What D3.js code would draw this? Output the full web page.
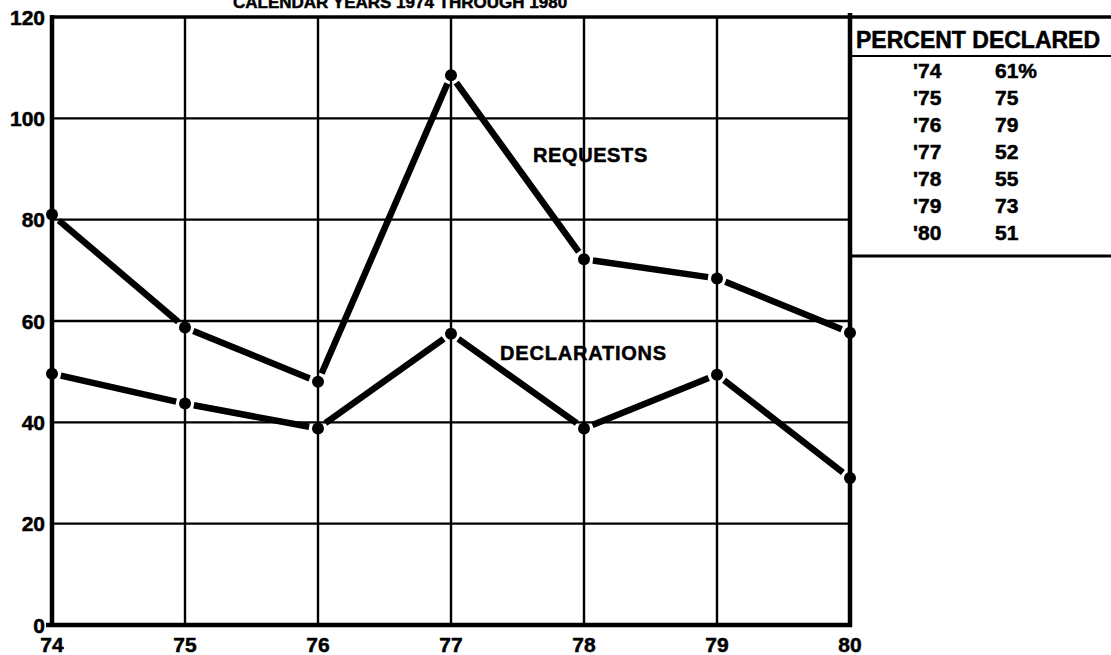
<!DOCTYPE html>
<html>
<head>
<meta charset="utf-8">
<script src="https://cdn.jsdelivr.net/npm/d3@7"></script>
<style>
  html, body { margin: 0; padding: 0; background: #fff; }
  svg { display: block; font-family: "Liberation Sans", Arial, Helvetica, sans-serif; font-weight: bold; }
  svg text { stroke: #000; stroke-width: 0.5px; }
</style>
</head>
<body>
<svg id="chart" width="1111" height="655"></svg>
<script>
// ---- data ----
const years = [74, 75, 76, 77, 78, 79, 80];
const requests = [81, 58.7, 48, 108.5, 72.2, 68.4, 57.7];
const declarations = [49.6, 43.7, 38.8, 57.5, 38.8, 49.4, 29];
const yTicks = [0, 20, 40, 60, 80, 100, 120];
const tableYears = ["'74", "'75", "'76", "'77", "'78", "'79", "'80"];
const tablePercents = ["61%", "75", "79", "52", "55", "73", "51"];
const titleText = "CALENDAR YEARS 1974 THROUGH 1980";
const tableTitle = "PERCENT DECLARED";

// ---- layout ----
const W = 1111, H = 655;
const mLeft = 52, mRight = 850, mTop = 17, mBottom = 625;
const svg = d3.select("#chart");

const x = d3.scaleLinear().domain([74, 80]).range([mLeft, mRight]);
const y = d3.scaleLinear().domain([0, 120]).range([mBottom, mTop]);

// title (partly cropped at top, as in the source)
svg.append("text").attr("x", 233).attr("y", 8)
  .attr("font-size", 17).text(titleText);

// gridlines
svg.append("g").selectAll("line").data(yTicks.filter(d => d > 0 && d < 120)).join("line")
  .attr("x1", mLeft).attr("x2", mRight)
  .attr("y1", d => y(d)).attr("y2", d => y(d))
  .attr("stroke", "#000").attr("stroke-width", 2.4);
svg.append("g").selectAll("line").data(years.filter(d => d > 74 && d < 80)).join("line")
  .attr("x1", d => x(d)).attr("x2", d => x(d))
  .attr("y1", mTop).attr("y2", mBottom)
  .attr("stroke", "#000").attr("stroke-width", 2.4);

// frame
svg.append("line").attr("x1", mLeft).attr("x2", mLeft).attr("y1", mTop - 2).attr("y2", mBottom + 2)
  .attr("stroke", "#000").attr("stroke-width", 4.5);
svg.append("line").attr("x1", mLeft - 6).attr("x2", mRight + 2).attr("y1", mBottom).attr("y2", mBottom)
  .attr("stroke", "#000").attr("stroke-width", 4.5);
svg.append("line").attr("x1", mRight).attr("x2", mRight).attr("y1", mTop - 4).attr("y2", mBottom + 2)
  .attr("stroke", "#000").attr("stroke-width", 4.5);
svg.append("line").attr("x1", mLeft - 2).attr("x2", W).attr("y1", mTop).attr("y2", mTop)
  .attr("stroke", "#000").attr("stroke-width", 3.5);

// y axis labels
svg.append("g").selectAll("text").data(yTicks).join("text")
  .attr("x", mLeft - 7).attr("y", d => y(d))
  .attr("text-anchor", "end").attr("dominant-baseline", "central")
  .attr("font-size", 21).text(d => d);

// x axis labels
svg.append("g").selectAll("text").data(years).join("text")
  .attr("x", d => x(d)).attr("y", mBottom + 27)
  .attr("text-anchor", "middle")
  .attr("font-size", 21).text(d => d);

// series
function drawSeries(vals) {
  const pts = years.map((yr, i) => [x(yr), y(vals[i])]);
  const gap = 9;
  const segs = d3.pairs(pts).map(([a, b]) => {
    const dx = b[0] - a[0], dy = b[1] - a[1];
    const len = Math.hypot(dx, dy);
    const ux = dx / len, uy = dy / len;
    return [a[0] + ux * gap, a[1] + uy * gap, b[0] - ux * gap, b[1] - uy * gap];
  });
  const g = svg.append("g");
  g.selectAll("line").data(segs).join("line")
    .attr("x1", d => d[0]).attr("y1", d => d[1])
    .attr("x2", d => d[2]).attr("y2", d => d[3])
    .attr("stroke", "#000").attr("stroke-width", 6.5);
  g.selectAll("circle").data(pts).join("circle")
    .attr("cx", d => d[0]).attr("cy", d => d[1]).attr("r", 6).attr("fill", "#000");
}
drawSeries(requests);
drawSeries(declarations);

// series labels
svg.append("text").attr("x", 533).attr("y", 162).attr("font-size", 20)
  .attr("letter-spacing", 0.6).text("REQUESTS");
svg.append("text").attr("x", 500).attr("y", 360).attr("font-size", 20)
  .attr("letter-spacing", 0.8).text("DECLARATIONS");

// table
svg.append("text").attr("x", 856).attr("y", 48).attr("font-size", 23).text(tableTitle);
svg.append("line").attr("x1", mRight).attr("x2", W).attr("y1", 56).attr("y2", 56)
  .attr("stroke", "#000").attr("stroke-width", 2);
svg.append("line").attr("x1", mRight + 2).attr("x2", W).attr("y1", 256).attr("y2", 256)
  .attr("stroke", "#000").attr("stroke-width", 3);
const rowY = d3.scalePoint().domain(tableYears).range([78, 240]);
svg.append("g").selectAll("text").data(tableYears).join("text")
  .attr("x", 913).attr("y", d => rowY(d)).attr("font-size", 21).text(d => d);
svg.append("g").selectAll("text").data(tablePercents).join("text")
  .attr("x", 995).attr("y", (d, i) => rowY(tableYears[i])).attr("font-size", 21).text(d => d);
</script>
</body>
</html>
